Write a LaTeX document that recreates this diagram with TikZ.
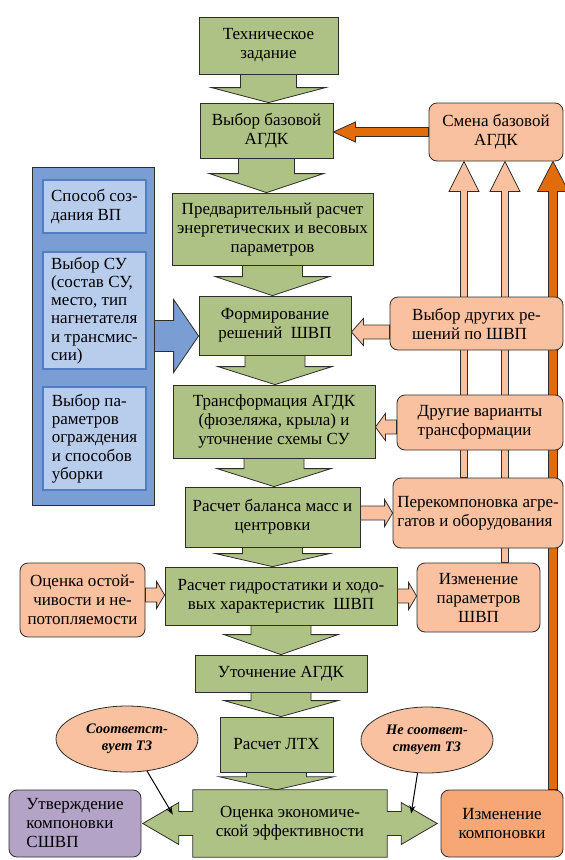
\documentclass[tikz,border=0pt]{standalone}
\usepackage{fontspec}
\setmainfont{Liberation Serif}
\usepackage{tikz}
\usetikzlibrary{arrows.meta,shapes.geometric,calc,backgrounds}
\definecolor{boxgreen}{RGB}{174,194,133}
\definecolor{peach}{RGB}{249,193,160}
\definecolor{deeporange}{RGB}{226,107,10}
\definecolor{changeorange}{RGB}{247,166,118}
\definecolor{lilac}{RGB}{179,163,199}
\definecolor{blueouter}{RGB}{122,157,212}
\definecolor{bluein}{RGB}{184,204,236}
\definecolor{blueedge}{RGB}{80,125,195}
\definecolor{linegray}{RGB}{45,45,45}
\newcommand{\mainsize}{\fontsize{17}{19}\selectfont}
\newcommand{\ovalsize}{\fontsize{14.5}{17}\selectfont}
% block arrow, vertical: style, start, end, shaft half, head half, head length
\newcommand{\vblock}[6]{%
  \draw[#1] let \p1=#2, \p2=#3, \n1={\y2-sign(\y2-\y1)*#6} in
    (\x1-#4,\y1) -- (\x1-#4,\n1*1pt) -- (\x1-#5,\n1*1pt) -- (\x1,\y2)
    -- (\x1+#5,\n1*1pt) -- (\x1+#4,\n1*1pt) -- (\x1+#4,\y1) -- cycle;}
% block arrow, horizontal
\newcommand{\hblock}[6]{%
  \draw[#1] let \p1=#2, \p2=#3, \n1={\x2-sign(\x2-\x1)*#6} in
    (\x1,\y1-#4) -- (\n1*1pt,\y1-#4) -- (\n1*1pt,\y1-#5) -- (\x2,\y1)
    -- (\n1*1pt,\y1+#5) -- (\n1*1pt,\y1+#4) -- (\x1,\y1+#4) -- cycle;}

\begin{document}
\begin{tikzpicture}[
    x=1pt, y=-1pt,
    greenbox/.style={rectangle, draw=linegray, fill=boxgreen, line width=0.8pt, align=center, font=\mainsize, inner sep=2pt},
    peachbox/.style={rectangle, draw=linegray, fill=peach, rounded corners=8pt, line width=0.8pt, align=center, font=\mainsize, inner sep=2pt},
    innerbox/.style={rectangle, draw=blueedge, fill=bluein, line width=1.6pt, align=left, font=\fontsize{17}{18.3}\selectfont, minimum width=103pt, inner sep=2pt},
    oval/.style={ellipse, draw=linegray, fill=peach, line width=0.8pt, align=center, font=\ovalsize\bfseries\itshape, inner sep=0pt},
    greenarrow/.style={draw=linegray, fill=boxgreen, line width=0.8pt},
    palearrow/.style={draw=linegray, fill=peach, line width=0.8pt},
    darkarrow/.style={draw=linegray, fill=deeporange, line width=0.8pt},
    bluearrow/.style={draw=linegray, fill=blueouter, line width=0.8pt},
    thinarrow/.style={-{Stealth[length=8pt,width=6pt]}, line width=1pt, black}
]
\useasboundingbox (0,0) rectangle (565,860);

% Main column
\node[greenbox, minimum width=139pt, minimum height=57pt] (tz) at (268.5,45.5) {Техническое\\задание};
\node[greenbox, minimum width=133pt, minimum height=55pt] (vb) at (266.5,130.5) {Выбор базовой\\АГДК};
\node[greenbox, minimum width=201pt, minimum height=72pt] (pr) at (272.5,229) {Предварительный расчет\\энергетических и весовых\\параметров};
\node[greenbox, minimum width=152pt, minimum height=59pt] (fr) at (275,325.5) {Формирование\\решений~ ШВП};
\node[greenbox, minimum width=202pt, minimum height=73pt] (tr) at (274,421.5) {Трансформация АГДК\\(фюзеляжа, крыла) и\\уточнение схемы СУ};
\node[greenbox, minimum width=175pt, minimum height=60pt] (bm) at (272.5,517) {Расчет баланса масс и\\центровки};
\node[greenbox, minimum width=232pt, minimum height=58pt] (gs) at (281,596) {Расчет гидростатики и ходо-\\вых характеристик~ ШВП};
\node[greenbox, minimum width=172pt, minimum height=37pt] (ut) at (281,673.5) {Уточнение АГДК};
\node[greenbox, minimum width=113pt, minimum height=55pt] (lth) at (276.5,744.5) {Расчет ЛТХ};
\node[align=center, font=\mainsize, minimum width=194pt, minimum height=67pt] (oe) at (290,823.5) {Оценка экономиче-\\ской эффективности};

% Left group
\node[rectangle, draw=linegray, fill=blueouter, line width=0.8pt, minimum width=122pt, minimum height=338pt] (bluebox) at (93,336) {};
\node[innerbox, minimum height=53pt] (sp) at (94.5,206.5) {Способ соз-\\дания ВП};
\node[innerbox, minimum height=117pt] (vsu) at (94.5,310.5) {Выбор СУ\\(состав СУ,\\место, тип\\нагнетателя\\и трансмис-\\сии)};
\node[innerbox, minimum height=103pt] (vpo) at (94.5,438.5) {Выбор па-\\раметров\\ограждения\\и способов\\уборки};
\node[peachbox, minimum width=125pt, minimum height=74pt] (oo) at (82.5,600) {Оценка остой-\\чивости и не-\\потопляемости};
\node[peachbox, fill=lilac, align=left, minimum width=132pt, minimum height=67pt] (us) at (75,823.5) {Утверждение\\компоновки\\СШВП};

% Right group
\node[peachbox, minimum width=134pt, minimum height=58pt] (sb) at (496,132) {Смена базовой\\АГДК};
\node[peachbox, align=left, minimum width=173pt, minimum height=53pt] (vd) at (476.5,323.5) {Выбор других ре-\\шений по ШВП};
\node[peachbox, align=left, minimum width=166pt, minimum height=55pt] (dv) at (480,422.5) {Другие варианты\\трансформации};
\node[peachbox, align=left, minimum width=170pt, minimum height=70pt] (pk) at (478,513) {Перекомпоновка агре-\\гатов и оборудования};
\node[peachbox, minimum width=123pt, minimum height=69pt] (ip) at (478.5,597.5) {Изменение\\параметров\\ШВП};
\node[peachbox, fill=changeorange, minimum width=122pt, minimum height=67pt] (ik) at (502,823.5) {Изменение\\компоновки};

% Decisions
\node[oval, minimum width=142pt, minimum height=66pt] (el1) at (127,739) {Соответст-\\вует ТЗ};
\node[oval, minimum width=132pt, minimum height=66pt] (el2) at (427,740) {Не соответ-\\ствует ТЗ};

\begin{scope}[on background layer]
% Main flow
\vblock{greenarrow}{(tz.south)}{(vb.north)}{28pt}{57pt}{15pt}
\vblock{greenarrow}{(vb.south)}{(pr.north)}{28pt}{57pt}{19pt}
\vblock{greenarrow}{(pr.south)}{(fr.north)}{30pt}{57pt}{19pt}
\vblock{greenarrow}{(fr.south)}{(tr.north)}{30pt}{57pt}{18pt}
\vblock{greenarrow}{(tr.south)}{(bm.north)}{30pt}{57pt}{18pt}
\vblock{greenarrow}{(bm.south)}{(gs.north)}{30pt}{57pt}{13pt}
\vblock{greenarrow}{(gs.south)}{(ut.north)}{30pt}{57pt}{20pt}
\vblock{greenarrow}{(ut.south)}{(lth.north)}{30pt}{57pt}{16pt}
\vblock{greenarrow}{(lth.south)}{(oe.north)}{30pt}{57pt}{13pt}

% Evaluation with two outlets
\draw[greenarrow] let \p1=(oe.north west), \p2=(oe.south east), \p3=(oe.center) in
  (\x1,\y1) -- (\x2,\y1) -- (\x2,\y3+12pt) -- (\x2+14pt,\y3+12pt) -- (\x2+14pt,\y3+21pt)
  -- (\x2+50pt,\y3) -- (\x2+14pt,\y3-21pt) -- (\x2+14pt,\y3-12pt) -- (\x2,\y3-12pt)
  -- (\x2,\y2) -- (\x1,\y2) -- (\x1,\y3-12pt) -- (\x1-14pt,\y3-12pt) -- (\x1-14pt,\y3-21pt)
  -- (\x1-50pt,\y3) -- (\x1-14pt,\y3+21pt) -- (\x1-14pt,\y3+12pt) -- (\x1,\y3+12pt) -- cycle;

% Feedback risers
\vblock{palearrow}{($(pk.north)+(-14,0)$)}{(sb.south)}{3.5pt}{15pt}{30pt}
\vblock{palearrow}{($(ip.north)+(26.5,0)$)}{(sb.south)}{3.5pt}{15pt}{30pt}
\vblock{darkarrow}{($(ik.north)+(51,0)$)}{(sb.south)}{4.5pt}{15.5pt}{30pt}
\end{scope}

% Side inputs
\hblock{bluearrow}{(bluebox.east)}{(fr.west)}{15.5pt}{36.5pt}{25pt}
\hblock{darkarrow}{(sb.west)}{(vb.east)}{4.5pt}{10pt}{22pt}
\hblock{palearrow}{($(vd.west)+(0,8.5)$)}{(fr.east)}{7pt}{13.5pt}{12pt}
\hblock{palearrow}{($(dv.west)+(0,4.5)$)}{(tr.east)}{7pt}{13.5pt}{10pt}
\hblock{palearrow}{($(bm.east)+(0,-4)$)}{(pk.west)}{7pt}{13.5pt}{8pt}
\hblock{palearrow}{($(oo.east)+(0,-5)$)}{(gs.west)}{7pt}{13.5pt}{8pt}
\hblock{palearrow}{(gs.east)}{(ip.west)}{7pt}{13.5pt}{8pt}

% Decision arrows
\draw[thinarrow] (el1.302) -- ($(oe.west)+(-20,-9)$);
\draw[thinarrow] (el2.254) -- ($(oe.east)+(24,-10)$);

\end{tikzpicture}
\end{document}
